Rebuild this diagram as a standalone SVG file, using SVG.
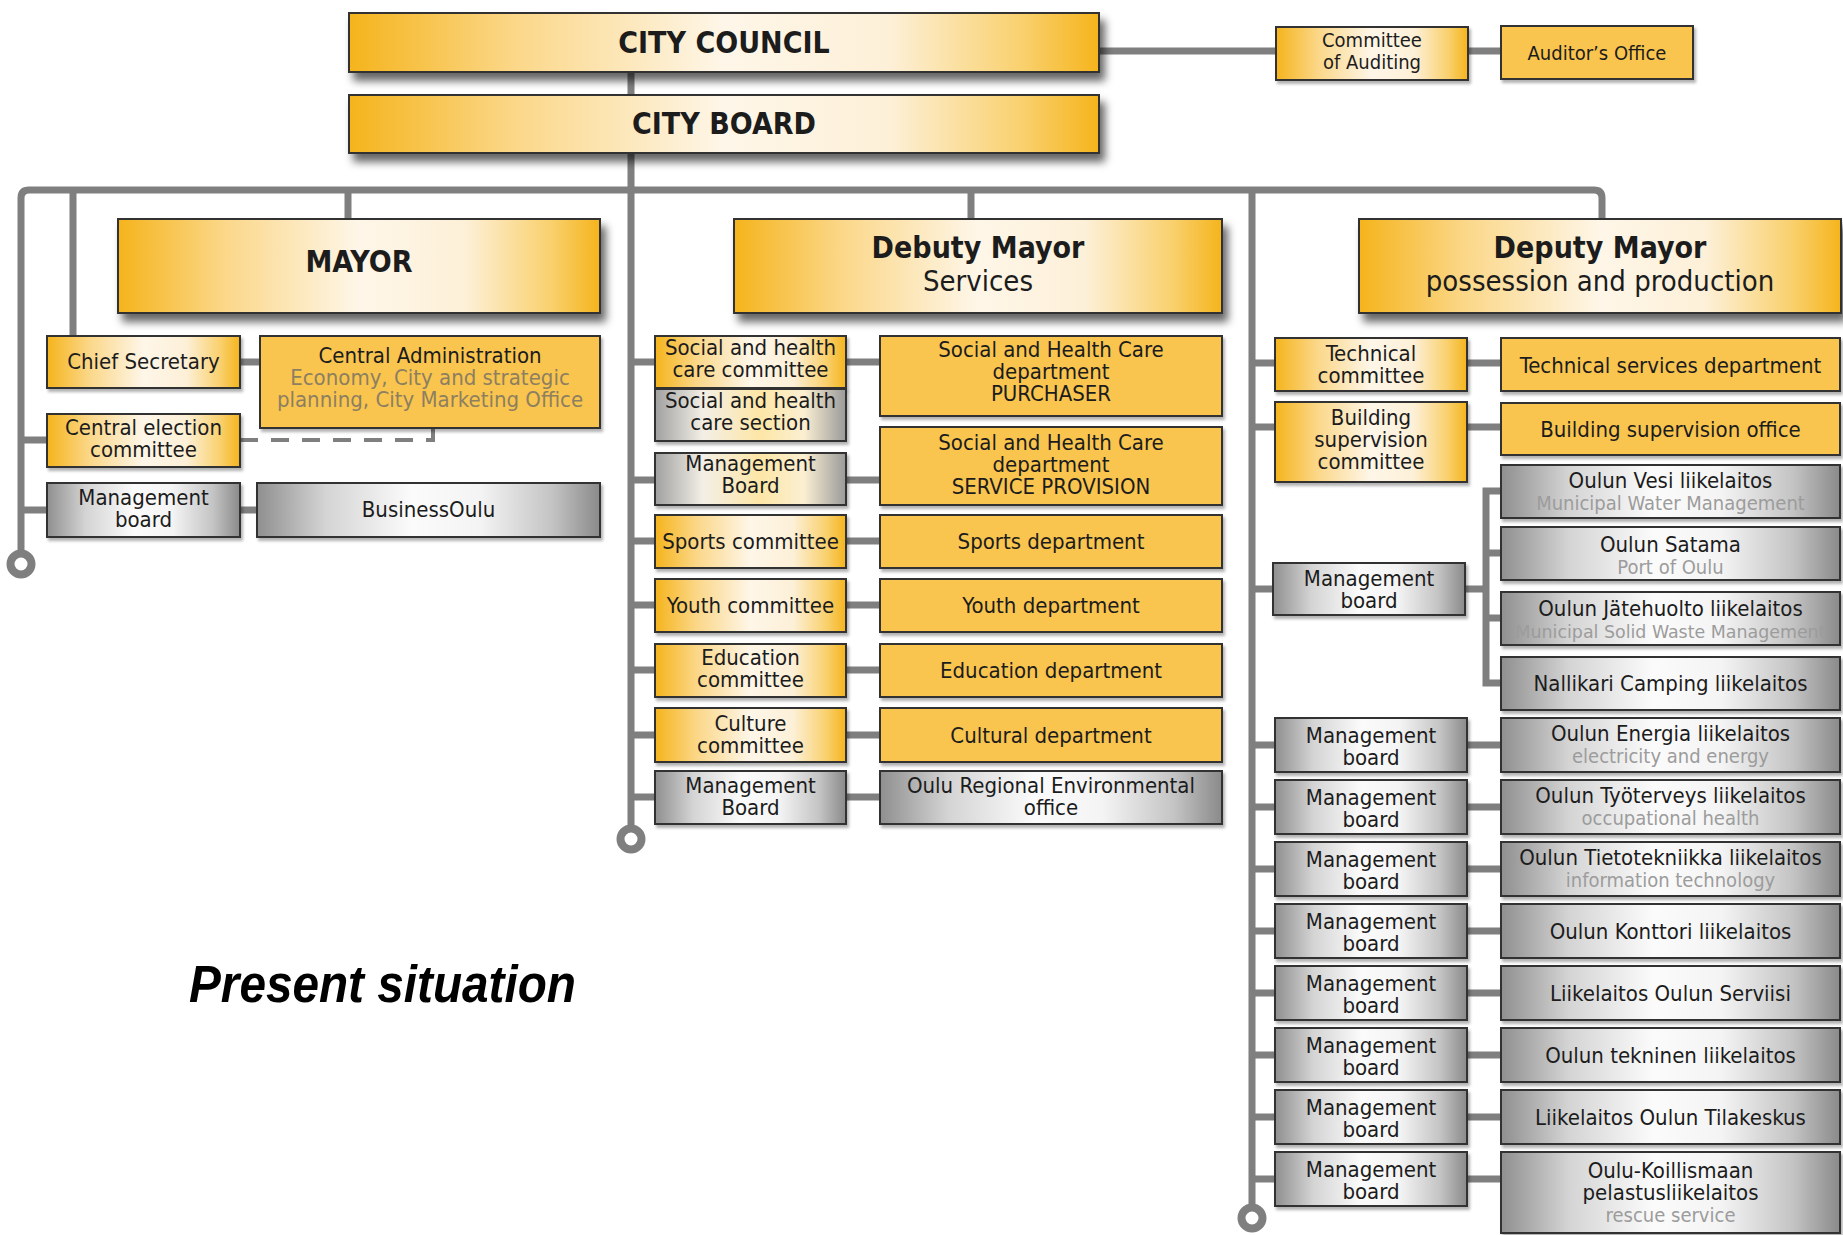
<svg xmlns="http://www.w3.org/2000/svg" width="1843" height="1235" viewBox="0 0 1843 1235">
<style>
.t{font-family:"DejaVu Sans Condensed","Liberation Sans",sans-serif;font-stretch:condensed;font-size:22px;fill:#1c1c1c;text-anchor:middle}
.h{font-size:30px;font-weight:bold}
.h2{font-size:29px}
.sub{fill:#9c9c9c;font-size:20px}
.subb{fill:#8d7f60}
.bx{stroke:#333;stroke-width:2}
.fy{fill:#f9c550}
.gy{fill:url(#gy)}
.gg{fill:url(#gg)}
.gm{fill:url(#gm)}
.big{filter:url(#sh)}
.sm{filter:url(#sh2)}
</style>
<defs>
<linearGradient id="gy" x1="0" y1="0" x2="1" y2="0">
<stop offset="0" stop-color="#f5b41c"/><stop offset="0.22" stop-color="#fbd788"/><stop offset="0.5" stop-color="#fef6e8"/><stop offset="0.72" stop-color="#fdf0d8"/><stop offset="0.9" stop-color="#f9d06c"/><stop offset="1" stop-color="#f5b41c"/>
</linearGradient>
<linearGradient id="gg" x1="0" y1="0" x2="1" y2="0">
<stop offset="0" stop-color="#8f8f8f"/><stop offset="0.2" stop-color="#d4d4d4"/><stop offset="0.45" stop-color="#fbfbfb"/><stop offset="0.65" stop-color="#f4f4f4"/><stop offset="0.86" stop-color="#c4c4c4"/><stop offset="1" stop-color="#8a8a8a"/>
</linearGradient>
<linearGradient id="gm" x1="0" y1="0" x2="1" y2="0">
<stop offset="0" stop-color="#a0a0a0"/><stop offset="0.25" stop-color="#f3efe6"/><stop offset="0.55" stop-color="#fde6a6"/><stop offset="0.78" stop-color="#fbefd2"/><stop offset="1" stop-color="#9a9a9a"/>
</linearGradient>
<filter id="sh" x="-5%" y="-20%" width="115%" height="160%">
<feDropShadow dx="5" dy="8" stdDeviation="4" flood-color="#000" flood-opacity="0.6"/>
</filter>
<filter id="sh2" x="-10%" y="-20%" width="125%" height="150%">
<feDropShadow dx="2" dy="3" stdDeviation="1.5" flood-color="#000" flood-opacity="0.3"/>
</filter>
</defs>
<rect width="1843" height="1235" fill="#fff"/>

<g id="connectors" fill="none" stroke="#7f7f7f" stroke-width="7">
<path d="M1095,51 H1280"/>
<path d="M1465,51 H1505"/>
<path d="M631,70 V830"/>
<path d="M21,554 V198 Q21,190 29,190 H1594 Q1602,190 1602,198 V222"/>
<path d="M73,190 V340"/>
<path d="M348,190 V222"/>
<path d="M971,190 V222"/>
<path d="M1252,190 V1208"/>
<path d="M21,440 H50"/>
<path d="M21,510 H50"/>
<path d="M238,362 H262"/>
<path d="M238,510 H260"/>
<path d="M240,440 H433 V428" stroke-width="4" stroke-dasharray="18 13"/>
<path d="M631,362 H658 M844,362 H882"/>
<path d="M631,480 H658 M844,480 H882"/>
<path d="M631,541 H658 M844,541 H882"/>
<path d="M631,605 H658 M844,605 H882"/>
<path d="M631,670 H658 M844,670 H882"/>
<path d="M631,735 H658 M844,735 H882"/>
<path d="M631,797 H658 M844,797 H882"/>
<path d="M1252,363 H1278 M1465,363 H1503"/>
<path d="M1252,427 H1278 M1465,427 H1503"/>
<path d="M1252,589 H1276 M1463,589 H1486"/>
<path d="M1503,491 H1486 V683 H1503 M1486,553 H1503 M1486,618 H1503"/>
<path d="M1252,745 H1278 M1465,745 H1503"/>
<path d="M1252,807 H1278 M1465,807 H1503"/>
<path d="M1252,869 H1278 M1465,869 H1503"/>
<path d="M1252,931 H1278 M1465,931 H1503"/>
<path d="M1252,993 H1278 M1465,993 H1503"/>
<path d="M1252,1055 H1278 M1465,1055 H1503"/>
<path d="M1252,1117 H1278 M1465,1117 H1503"/>
<path d="M1252,1179 H1278 M1465,1179 H1503"/>
<circle cx="21" cy="564" r="10.5" fill="#fff" stroke-width="8"/>
<circle cx="631" cy="839" r="10.5" fill="#fff" stroke-width="8"/>
<circle cx="1252" cy="1218" r="10.5" fill="#fff" stroke-width="8"/>
</g>

<g id="n-city-council"><rect class="bx gy big" x="349" y="13" width="750" height="59"/><text class="t h" x="724" y="53">CITY COUNCIL</text></g>
<g id="n-city-board"><rect class="bx gy big" x="349" y="95" width="750" height="58"/><text class="t h" x="724" y="134">CITY BOARD</text></g>
<g id="n-committee-auditing"><rect class="bx gy sm" x="1276" y="27" width="192" height="53"/><text class="t" style="font-size:20px" x="1372" y="47">Committee</text><text class="t" style="font-size:20px" x="1372" y="69">of Auditing</text></g>
<g id="n-auditors-office"><rect class="bx fy sm" x="1501" y="26" width="192" height="53"/><text class="t" style="font-size:20px" x="1597" y="60">Auditor’s Office</text></g>

<g id="n-mayor"><rect class="bx gy big" x="118" y="219" width="482" height="94"/><text class="t h" x="359" y="272">MAYOR</text></g>
<g id="n-chief-secretary"><rect class="bx gy sm" x="47" y="336" width="193" height="52"/><text class="t" x="143.5" y="369">Chief Secretary</text></g>
<g id="n-central-admin"><rect class="bx fy sm" x="260" y="336" width="340" height="92"/><text class="t" x="430" y="363">Central Administration</text><text class="t subb" x="430" y="385">Economy, City and strategic</text><text class="t subb" x="430" y="407">planning, City Marketing Office</text></g>
<g id="n-central-election"><rect class="bx gy sm" x="47" y="414" width="193" height="53"/><text class="t" x="143.5" y="435">Central election</text><text class="t" x="143.5" y="457">committee</text></g>
<g id="n-mgmt-businessoulu"><rect class="bx gg sm" x="47" y="483" width="193" height="54"/><text class="t" x="143.5" y="505">Management</text><text class="t" x="143.5" y="527">board</text></g>
<g id="n-businessoulu"><rect class="bx gg sm" x="257" y="483" width="343" height="54"/><text class="t" x="428.5" y="517">BusinessOulu</text></g>

<g id="n-debuty-mayor"><rect class="bx gy big" x="734" y="219" width="488" height="94"/><text class="t h" x="978" y="258">Debuty Mayor</text><text class="t h2" x="978" y="291">Services</text></g>
<g id="n-social-committee"><rect class="bx gy sm" x="655" y="336" width="191" height="52"/><text class="t" x="750.5" y="355">Social and health</text><text class="t" x="750.5" y="377">care committee</text></g>
<g id="n-social-section"><rect class="bx gm sm" x="655" y="389" width="191" height="52"/><text class="t" x="750.5" y="408">Social and health</text><text class="t" x="750.5" y="430">care section</text></g>
<g id="n-mgmt-social"><rect class="bx gm sm" x="655" y="453" width="191" height="52"/><text class="t" x="750.5" y="471">Management</text><text class="t" x="750.5" y="493">Board</text></g>
<g id="n-purchaser"><rect class="bx fy sm" x="880" y="336" width="342" height="80"/><text class="t" x="1051" y="357">Social and Health Care</text><text class="t" x="1051" y="379">department</text><text class="t" x="1051" y="401">PURCHASER</text></g>
<g id="n-service-provision"><rect class="bx fy sm" x="880" y="427" width="342" height="78"/><text class="t" x="1051" y="450">Social and Health Care</text><text class="t" x="1051" y="472">department</text><text class="t" x="1051" y="494">SERVICE PROVISION</text></g>
<g id="n-sports-committee"><rect class="bx gy sm" x="655" y="515" width="191" height="53"/><text class="t" x="750.5" y="549">Sports committee</text></g>
<g id="n-sports-dept"><rect class="bx fy sm" x="880" y="515" width="342" height="53"/><text class="t" x="1051" y="549">Sports department</text></g>
<g id="n-youth-committee"><rect class="bx gy sm" x="655" y="579" width="191" height="53"/><text class="t" x="750.5" y="613">Youth committee</text></g>
<g id="n-youth-dept"><rect class="bx fy sm" x="880" y="579" width="342" height="53"/><text class="t" x="1051" y="613">Youth department</text></g>
<g id="n-education-committee"><rect class="bx gy sm" x="655" y="644" width="191" height="53"/><text class="t" x="750.5" y="665">Education</text><text class="t" x="750.5" y="687">committee</text></g>
<g id="n-education-dept"><rect class="bx fy sm" x="880" y="644" width="342" height="53"/><text class="t" x="1051" y="678">Education department</text></g>
<g id="n-culture-committee"><rect class="bx gy sm" x="655" y="708" width="191" height="54"/><text class="t" x="750.5" y="731">Culture</text><text class="t" x="750.5" y="753">committee</text></g>
<g id="n-cultural-dept"><rect class="bx fy sm" x="880" y="708" width="342" height="54"/><text class="t" x="1051" y="743">Cultural department</text></g>
<g id="n-mgmt-environment"><rect class="bx gg sm" x="655" y="771" width="191" height="53"/><text class="t" x="750.5" y="793">Management</text><text class="t" x="750.5" y="815">Board</text></g>
<g id="n-environment-office"><rect class="bx gg sm" x="880" y="771" width="342" height="53"/><text class="t" x="1051" y="793">Oulu Regional Environmental</text><text class="t" x="1051" y="815">office</text></g>

<g id="n-deputy-mayor"><rect class="bx gy big" x="1359" y="219" width="482" height="94"/><text class="t h" x="1600" y="258">Deputy Mayor</text><text class="t h2" x="1600" y="291">possession and production</text></g>
<g id="n-technical-committee"><rect class="bx gy sm" x="1275" y="338" width="192" height="53"/><text class="t" x="1371" y="361">Technical</text><text class="t" x="1371" y="383">committee</text></g>
<g id="n-technical-dept"><rect class="bx fy sm" x="1501" y="338" width="339" height="53"/><text class="t" x="1670.5" y="373">Technical services department</text></g>
<g id="n-building-committee"><rect class="bx gy sm" x="1275" y="402" width="192" height="80"/><text class="t" x="1371" y="425">Building</text><text class="t" x="1371" y="447">supervision</text><text class="t" x="1371" y="469">committee</text></g>
<g id="n-building-office"><rect class="bx fy sm" x="1501" y="403" width="339" height="52"/><text class="t" x="1670.5" y="437">Building supervision office</text></g>
<g id="n-mgmt-group"><rect class="bx gg sm" x="1273" y="563" width="192" height="52"/><text class="t" x="1369" y="586">Management</text><text class="t" x="1369" y="608">board</text></g>
<g id="n-vesi"><rect class="bx gg sm" x="1501" y="465" width="339" height="53"/><text class="t" x="1670.5" y="488">Oulun Vesi liikelaitos</text><text class="t sub" x="1670.5" y="510">Municipal Water Management</text></g>
<g id="n-satama"><rect class="bx gg sm" x="1501" y="527" width="339" height="53"/><text class="t" x="1670.5" y="552">Oulun Satama</text><text class="t sub" x="1670.5" y="574">Port of Oulu</text></g>
<g id="n-jatehuolto"><rect class="bx gg sm" x="1501" y="592" width="339" height="53"/><text class="t" x="1670.5" y="616">Oulun Jätehuolto liikelaitos</text><text class="t sub" x="1670.5" y="638" style="font-size:18px" textLength="310" lengthAdjust="spacingAndGlyphs">Municipal Solid Waste Management</text></g>
<g id="n-nallikari"><rect class="bx gg sm" x="1501" y="657" width="339" height="53"/><text class="t" x="1670.5" y="691">Nallikari Camping liikelaitos</text></g>

<g id="n-mgmt-energia"><rect class="bx gg sm" x="1275" y="718" width="192" height="54"/><text class="t" x="1371" y="743">Management</text><text class="t" x="1371" y="765">board</text></g>
<g id="n-energia"><rect class="bx gg sm" x="1501" y="718" width="339" height="54"/><text class="t" x="1670.5" y="741">Oulun Energia liikelaitos</text><text class="t sub" x="1670.5" y="763">electricity and energy</text></g>
<g id="n-mgmt-tyoterveys"><rect class="bx gg sm" x="1275" y="780" width="192" height="54"/><text class="t" x="1371" y="805">Management</text><text class="t" x="1371" y="827">board</text></g>
<g id="n-tyoterveys"><rect class="bx gg sm" x="1501" y="780" width="339" height="54"/><text class="t" x="1670.5" y="803">Oulun Työterveys liikelaitos</text><text class="t sub" x="1670.5" y="825">occupational health</text></g>
<g id="n-mgmt-tietotekniikka"><rect class="bx gg sm" x="1275" y="842" width="192" height="54"/><text class="t" x="1371" y="867">Management</text><text class="t" x="1371" y="889">board</text></g>
<g id="n-tietotekniikka"><rect class="bx gg sm" x="1501" y="842" width="339" height="54"/><text class="t" x="1670.5" y="865">Oulun Tietotekniikka liikelaitos</text><text class="t sub" x="1670.5" y="887">information technology</text></g>
<g id="n-mgmt-konttori"><rect class="bx gg sm" x="1275" y="904" width="192" height="54"/><text class="t" x="1371" y="929">Management</text><text class="t" x="1371" y="951">board</text></g>
<g id="n-konttori"><rect class="bx gg sm" x="1501" y="904" width="339" height="54"/><text class="t" x="1670.5" y="939">Oulun Konttori liikelaitos</text></g>
<g id="n-mgmt-serviisi"><rect class="bx gg sm" x="1275" y="966" width="192" height="54"/><text class="t" x="1371" y="991">Management</text><text class="t" x="1371" y="1013">board</text></g>
<g id="n-serviisi"><rect class="bx gg sm" x="1501" y="966" width="339" height="54"/><text class="t" x="1670.5" y="1001">Liikelaitos Oulun Serviisi</text></g>
<g id="n-mgmt-tekninen"><rect class="bx gg sm" x="1275" y="1028" width="192" height="54"/><text class="t" x="1371" y="1053">Management</text><text class="t" x="1371" y="1075">board</text></g>
<g id="n-tekninen"><rect class="bx gg sm" x="1501" y="1028" width="339" height="54"/><text class="t" x="1670.5" y="1063">Oulun tekninen liikelaitos</text></g>
<g id="n-mgmt-tilakeskus"><rect class="bx gg sm" x="1275" y="1090" width="192" height="54"/><text class="t" x="1371" y="1115">Management</text><text class="t" x="1371" y="1137">board</text></g>
<g id="n-tilakeskus"><rect class="bx gg sm" x="1501" y="1090" width="339" height="54"/><text class="t" x="1670.5" y="1125">Liikelaitos Oulun Tilakeskus</text></g>
<g id="n-mgmt-pelastus"><rect class="bx gg sm" x="1275" y="1152" width="192" height="54"/><text class="t" x="1371" y="1177">Management</text><text class="t" x="1371" y="1199">board</text></g>
<g id="n-pelastus"><rect class="bx gg sm" x="1501" y="1152" width="339" height="81"/><text class="t" x="1670.5" y="1178">Oulu-Koillismaan</text><text class="t" x="1670.5" y="1200">pelastusliikelaitos</text><text class="t sub" x="1670.5" y="1222">rescue service</text></g>

<text x="189" y="1002" font-family="Liberation Sans, Arial, sans-serif" font-size="51" font-weight="bold" font-style="italic" fill="#000" textLength="387" lengthAdjust="spacingAndGlyphs">Present situation</text>
</svg>
